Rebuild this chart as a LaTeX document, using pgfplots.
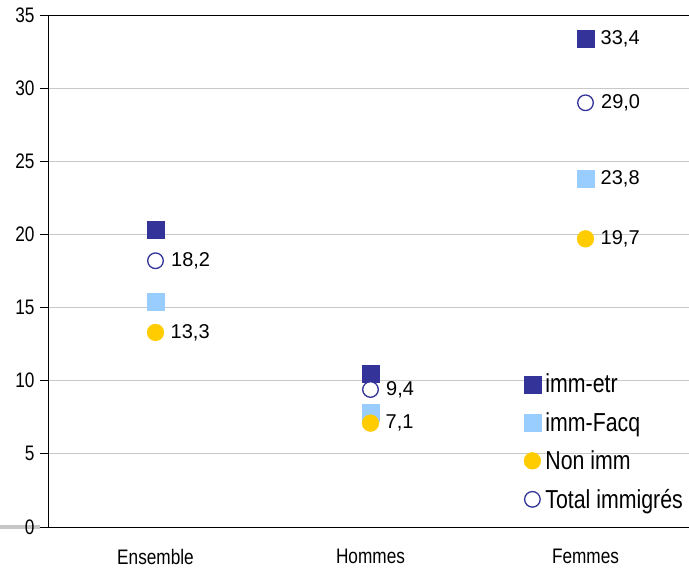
\documentclass[border=0pt]{standalone}
\usepackage{fontspec}
\setmainfont{Liberation Sans}
\newfontfamily\narrow{Liberation Sans}[FakeStretch=0.82]
\usepackage{pgfplots}
\usepackage{pgfplotstable}
\pgfplotsset{compat=1.18}
\usetikzlibrary{calc,backgrounds}
\definecolor{cdark}{HTML}{333399}
\definecolor{clight}{HTML}{99CCFF}
\definecolor{cyel}{HTML}{FFCC00}
\definecolor{cgrid}{HTML}{C8C8C8}

\pgfplotstableread{
x y lab
0 20.3 {}
1 10.5 {}
2 33.4 {33,4}
}\immetr
\pgfplotstableread{
x y lab
0 15.4 {}
1 7.8 {}
2 23.8 {23,8}
}\immfacq
\pgfplotstableread{
x y lab
0 13.3 {13,3}
1 7.1 {7,1}
2 19.7 {19,7}
}\nonimm
\pgfplotstableread{
x y lab
0 18.2 {18,2}
1 9.4 {9,4}
2 29.0 {29,0}
}\total

\begin{document}
\begin{tikzpicture}
\begin{axis}[
  scale only axis,
  width=645bp, height=512bp,
  xmin=-0.5, xmax=2.5,
  ymin=0, ymax=35,
  clip=false,
  axis x line*=bottom,
  axis y line*=left,
  axis line style={-, black, line width=0.9bp},
  xtick={0,1,2},
  xticklabels={Ensemble,Hommes,Femmes},
  x tick style={draw=none},
  extra x ticks={-0.5,0.5,1.5,2.5},
  extra x tick labels={},
  extra x tick style={tick style={draw=black, line width=0.8bp}, major tick length=6bp, tick align=outside},
  ytick={0,5,...,30},
  extra y ticks={35},
  extra y tick style={ymajorgrids=true, major grid style={black, line width=0.9bp}},
  ymajorgrids=true,
  major grid style={cgrid, line width=0.8bp},
  y tick style={black, line width=0.8bp},
  major tick length=8bp,
  tick align=outside,
  /pgf/number format/assume math mode=true,
  yticklabel style={font=\narrow\fontsize{21bp}{22bp}\selectfont, xshift=-2bp},
  xticklabel style={font=\narrow\fontsize{21bp}{22bp}\selectfont, yshift=-11bp},
  nodes near coords,
  point meta=explicit symbolic,
  nodes near coords style={anchor=west, inner sep=0pt, xshift=15bp, font=\fontsize{20bp}{21bp}\selectfont, text=black},
  legend style={at={(rel axis cs:0.735,0.303)}, anchor=north west, draw=none, fill=none,
    font=\narrow\fontsize{26bp}{27bp}\selectfont, row sep=14bp, inner sep=0pt,
    nodes={inner xsep=4.5bp}},
  legend cell align=left,
  legend image code/.code={\draw[#1] plot coordinates {(0.35cm,0cm)};\path (0cm,0cm) (0.6cm,0cm);},
]
\addplot[only marks, color=cdark, mark=square*, mark size=8.5bp, mark options={fill=cdark, draw=none}] table[x=x,y=y,meta=lab]{\immetr};
\addlegendentry{imm-etr}
\addplot[only marks, color=clight, mark=square*, mark size=8.5bp, mark options={fill=clight, draw=none}] table[x=x,y=y,meta=lab]{\immfacq};
\addlegendentry{imm-Facq}
\addplot[only marks, color=cyel, mark=*, mark size=8.4bp, mark options={fill=cyel, draw=none}] table[x=x,y=y,meta=lab]{\nonimm};
\addlegendentry{Non imm}
\addplot[only marks, color=cdark, mark=*, mark size=7.8bp, mark options={fill=white, draw=cdark, line width=1.3bp}] table[x=x,y=y,meta=lab]{\total};
\addlegendentry{Total immigrés}
\end{axis}
\begin{scope}[on background layer]
\draw[gray!45, line width=3bp] ($(current axis.south west)+(-48bp,0)$) -- ++(40bp,0);
\end{scope}
\pgfresetboundingbox
\path ($(current axis.south west)+(-48bp,-41bp)$) rectangle ($(current axis.north east)+(-4bp,15bp)$);
\end{tikzpicture}
\end{document}
